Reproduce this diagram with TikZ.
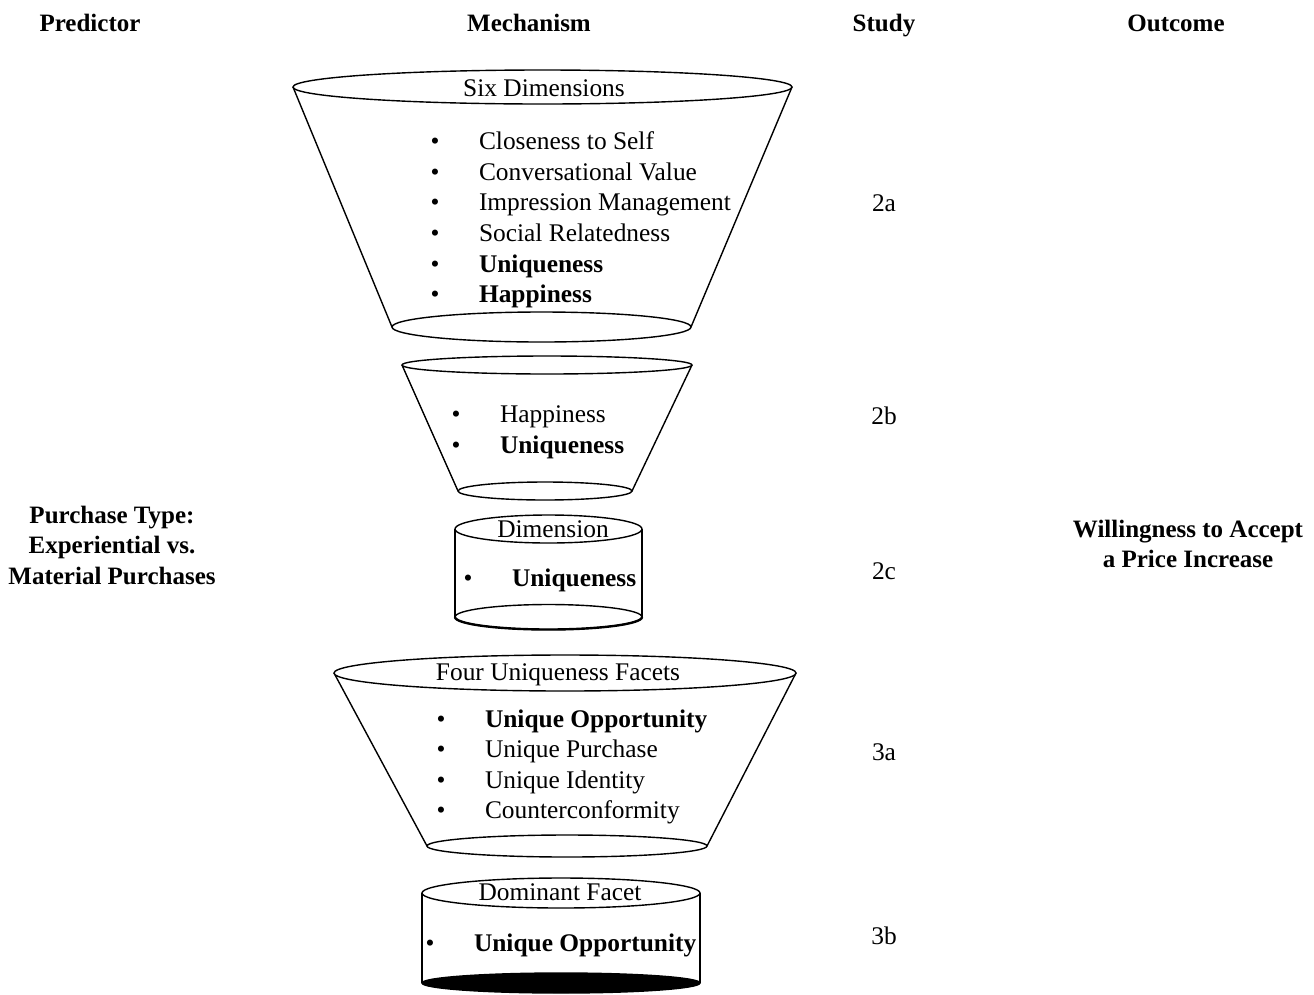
\documentclass[tikz,border=0pt]{standalone}
\usepackage{fontspec}
\setmainfont{Liberation Serif}
\begin{document}
\begin{tikzpicture}[x=1pt,y=-1pt,
  every node/.style={inner sep=0pt, outer sep=0pt, font=\fontsize{25.4}{30.5}\selectfont},
  shp/.style={draw=black, line width=1.4pt},
  itm/.style={anchor=mid west},
  bul/.style={anchor=mid},
  ttl/.style={anchor=base},
  hdr/.style={anchor=base, font=\fontsize{25}{30}\selectfont\bfseries},
  side/.style={font=\fontsize{25}{30.5}\selectfont\bfseries, align=center},
  stud/.style={anchor=mid}
]
\useasboundingbox (0,0) rectangle (1314,994);
% headers
\node[hdr] (hpred) at (90,31.5) {Predictor};
\node[hdr] (hmech) at (529,31.5) {Mechanism};
\node[hdr] (hstud) at (884,31.5) {Study};
\node[hdr] (hout) at (1176,31.5) {Outcome};
% side labels
\node[side] (pred) at (112,545) {Purchase Type:\\Experiential vs.\\Material Purchases};
\node[side] (outc) at (1188,544) {Willingness to Accept\\a Price Increase};
% funnel 1
\draw[shp] (293,87) -- (392,327);
\draw[shp] (792,87) -- (691,327);
\draw[shp,fill=white] (542.5,87) ellipse [x radius=249.5pt, y radius=17pt];
\draw[shp] (541.5,327) ellipse [x radius=149.5pt, y radius=15pt];
\node[ttl] (t1) at (544,96.5) {Six Dimensions};
\node[bul] (b11) at (435,147) {•}; \node[itm] (i11) at (479,147) {Closeness to Self};
\node[bul] (b12) at (435,178) {•}; \node[itm] (i12) at (479,178) {Conversational Value};
\node[bul] (b13) at (435,208) {•}; \node[itm] (i13) at (479,208) {Impression Management};
\node[bul] (b14) at (435,239) {•}; \node[itm] (i14) at (479,239) {Social Relatedness};
\node[bul] (b15) at (435,270) {•}; \node[itm] (i15) at (479,270) {\bfseries Uniqueness};
\node[bul] (b16) at (435,300) {•}; \node[itm] (i16) at (479,300) {\bfseries Happiness};
% funnel 2
\draw[shp] (402,365) -- (458,491);
\draw[shp] (692,365) -- (632,491);
\draw[shp,fill=white] (547,365) ellipse [x radius=145pt, y radius=9pt];
\draw[shp] (545,491) ellipse [x radius=87pt, y radius=9pt];
\node[bul] (b21) at (456,420) {•}; \node[itm] (i21) at (500,420) {Happiness};
\node[bul] (b22) at (456,451) {•}; \node[itm] (i22) at (500,451) {\bfseries Uniqueness};
% cylinder 1
\draw[shp] (455,529) -- (455,617);
\draw[shp] (642,529) -- (642,617);
\draw[shp,fill=white] (548.5,529) ellipse [x radius=93.5pt, y radius=14pt];
\draw[shp] (548.5,617) ellipse [x radius=93.5pt, y radius=12.5pt];
\draw[line width=2.4pt] (455,617) arc [start angle=180, end angle=360, x radius=93.5pt, y radius=12.5pt];
\node[ttl] (t3) at (553,537.5) {Dimension};
\node[bul] (b31) at (468,584) {•}; \node[itm] (i31) at (512,584) {\bfseries Uniqueness};
% funnel 3
\draw[shp] (334,673) -- (427,846);
\draw[shp] (796,673) -- (707,846);
\draw[shp,fill=white] (565,673) ellipse [x radius=231pt, y radius=18pt];
\draw[shp] (567,846) ellipse [x radius=140pt, y radius=11pt];
\node[ttl] (t4) at (558,680) {Four Uniqueness Facets};
\node[bul] (b41) at (441,725) {•}; \node[itm] (i41) at (485,725) {\bfseries Unique Opportunity};
\node[bul] (b42) at (441,755) {•}; \node[itm] (i42) at (485,755) {Unique Purchase};
\node[bul] (b43) at (441,786) {•}; \node[itm] (i43) at (485,786) {Unique Identity};
\node[bul] (b44) at (441,816) {•}; \node[itm] (i44) at (485,816) {Counterconformity};
% cylinder 2
\draw[shp] (422,893) -- (422,983);
\draw[shp] (700,893) -- (700,983);
\draw[shp,fill=white] (561,893) ellipse [x radius=139pt, y radius=15pt];
\draw[shp,fill=black] (561,983) ellipse [x radius=139pt, y radius=10pt];
\node[ttl] (t5) at (560,900.5) {Dominant Facet};
\node[bul] (b51) at (430,949) {•}; \node[itm] (i51) at (474,949) {\bfseries Unique Opportunity};
% studies
\node[stud] (s1) at (884,209) {2a};
\node[stud] (s2) at (884,422) {2b};
\node[stud] (s3) at (884,577) {2c};
\node[stud] (s4) at (884,758) {3a};
\node[stud] (s5) at (884,942) {3b};
\end{tikzpicture}
\end{document}
